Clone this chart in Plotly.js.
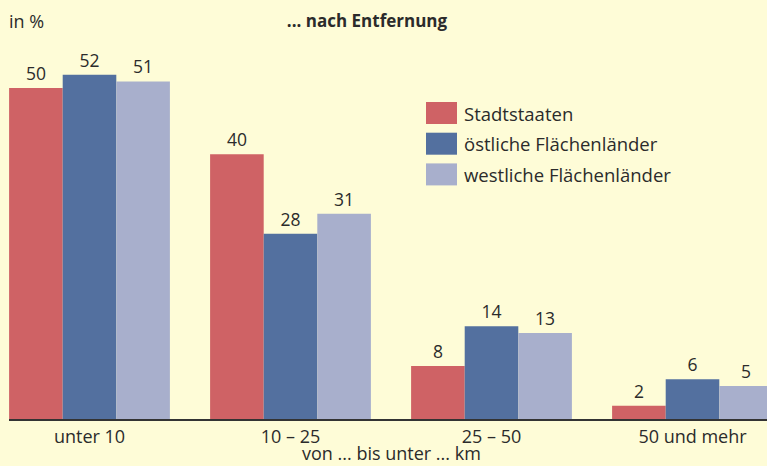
<!DOCTYPE html>
<html>
<head>
<meta charset="utf-8">
<script src="https://cdn.plot.ly/plotly-3.0.1.min.js"></script>
<style>html,body{margin:0;padding:0;background:#fefcd7;}#chart{width:767px;height:466px;}</style>
</head>
<body>
<div id="chart"></div>
<script>
const categories = ["unter 10", "10 – 25", "25 – 50", "50 und mehr"];
const seriesNames = ["Stadtstaaten", "östliche Flächenländer", "westliche Flächenländer"];
const stadtstaaten = [50, 40, 8, 2];
const oestliche = [52, 28, 14, 6];
const westliche = [51, 31, 13, 5];
const colors = ["#cf6265", "#53709f", "#a8afcc"];
const seriesValues = [stadtstaaten, oestliche, westliche];
const xTitle = "von ... bis unter ... km";

const FONT = "'Open Sans', 'Noto Sans', sans-serif";
const TXT = "#2b2b2b";
const W = 767, H = 466;
const M = {l: 9, r: 0, t: 40, b: 47};
const pw = W - M.l - M.r, ph = H - M.t - M.b;
const px = x => (x - M.l) / pw;
const py = y => (H - M.b - y) / ph;

const traces = seriesNames.map((name, i) => ({
  type: "bar",
  name: name,
  x: categories,
  y: seriesValues[i],
  text: seriesValues[i].map(String),
  textposition: "outside",
  cliponaxis: false,
  textfont: {family: FONT, size: 17.5, color: TXT},
  marker: {color: colors[i], line: {width: 0}},
  hoverinfo: "skip",
  showlegend: false
}));

const shapes = [];
const annotations = [];
seriesNames.forEach((name, i) => {
  const cy = 113 + i * 30.7;
  shapes.push({type: "rect", xref: "paper", yref: "paper",
    x0: px(426), x1: px(457), y0: py(cy + 11), y1: py(cy - 11),
    fillcolor: colors[i], line: {width: 0}});
  annotations.push({xref: "paper", yref: "paper", x: px(462), y: py(cy),
    xanchor: "left", yanchor: "middle", showarrow: false, text: name,
    font: {family: FONT, size: 18.5, color: TXT}});
});
annotations.push({xref: "paper", yref: "paper", x: px(7), y: py(21),
  xanchor: "left", yanchor: "middle", showarrow: false, text: "in %",
  font: {family: FONT, size: 18, color: TXT}});
annotations.push({xref: "paper", yref: "paper", x: px(391), y: py(466),
  xanchor: "center", yanchor: "bottom", showarrow: false, text: xTitle,
  borderpad: 0,
  font: {family: FONT, size: 18, color: TXT}});

const layout = {
  width: W, height: H,
  margin: M,
  paper_bgcolor: "#fefcd7",
  plot_bgcolor: "#fefcd7",
  title: {text: "<b>... nach Entfernung</b>", x: 367 / W, xanchor: "center", xref: "container",
    y: 1 - 21 / H, yanchor: "middle", yref: "container",
    font: {family: FONT, size: 17, color: TXT}},
  barmode: "group",
  bargap: 0.2,
  bargroupgap: 0,
  xaxis: {
    type: "category",
    range: [-(89.5 - M.l) / 201, -(89.5 - M.l) / 201 + pw / 201],
    showline: true, linecolor: "#333333", linewidth: 2,
    ticks: "", showgrid: false, zeroline: false,
    tickfont: {family: FONT, size: 18, color: TXT},
    fixedrange: true
  },
  yaxis: {visible: false, range: [0, ph / 6.62], fixedrange: true},
  shapes: shapes,
  annotations: annotations,
  showlegend: false
};

Plotly.newPlot("chart", traces, layout, {displayModeBar: false, staticPlot: true});
</script>
</body>
</html>
